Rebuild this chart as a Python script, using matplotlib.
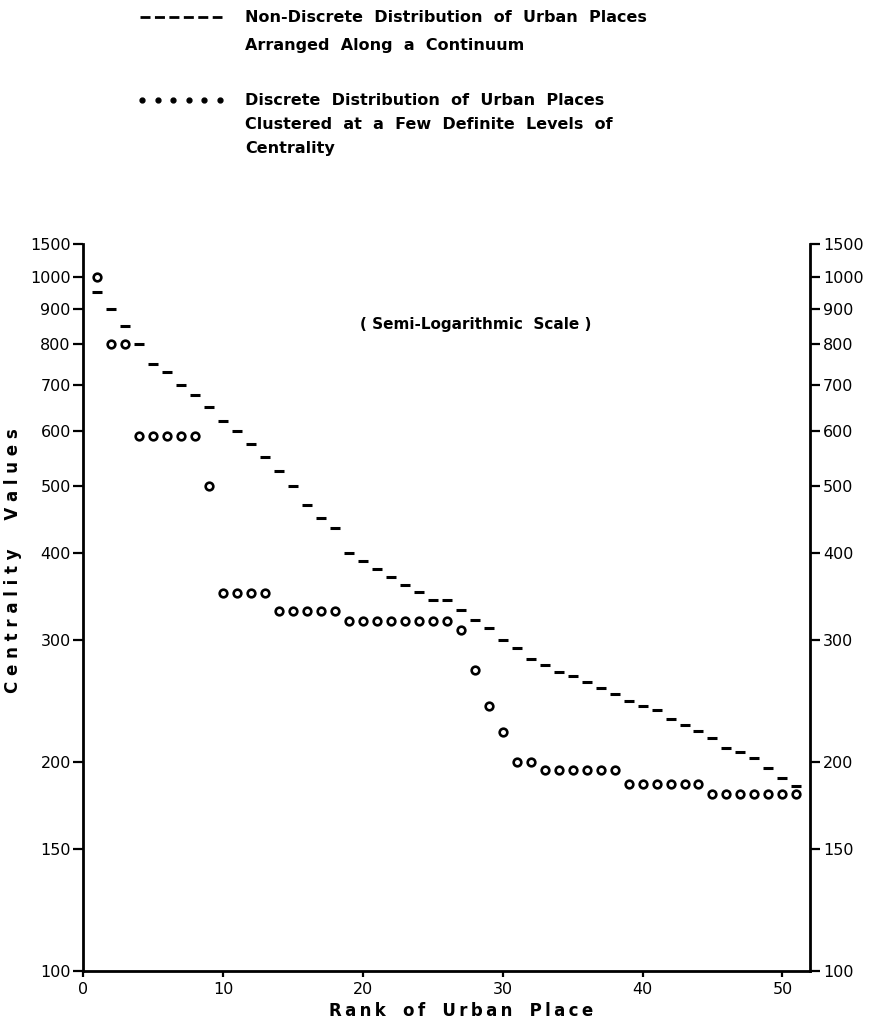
import numpy as np
import matplotlib
matplotlib.use("Agg")
import matplotlib.pyplot as plt
from matplotlib.lines import Line2D

# rank of urban place (1..51)
ranks = np.arange(1, 52)

# non-discrete distribution: one centrality value per rank
continuum_vals = [950, 900, 850, 800, 750, 730, 700, 675, 650, 620,
                  600, 575, 550, 525, 500, 470, 450, 435, 400, 390,
                  380, 370, 360, 352, 343, 342, 331, 321, 312, 300,
                  292, 282, 276, 270, 266, 261, 256, 251, 245, 241,
                  238, 231, 226, 222, 217, 210, 207, 203, 196, 190,
                  185]

# discrete distribution: places clustered at a few levels
discrete_vals = [1000, 800, 800, 590, 590, 590, 590, 590, 500, 350,
                 350, 350, 350, 330, 330, 330, 330, 330, 320, 320,
                 320, 320, 320, 320, 320, 320, 310, 272, 241, 221,
                 200, 200, 195, 195, 195, 195, 195, 195, 186, 186,
                 186, 186, 186, 186, 180, 180, 180, 180, 180, 180,
                 180]

x_ticks = [0, 10, 20, 30, 40, 50]
y_ticks = [100, 150, 200, 300, 400, 500, 600, 700, 800, 900, 1000, 1500]

legend_continuum = "Non-Discrete  Distribution  of  Urban  Places\nArranged  Along  a  Continuum"
legend_discrete = ("Discrete  Distribution  of  Urban  Places\n"
                   "Clustered  at  a  Few  Definite  Levels  of\nCentrality")

# semi-logarithmic scale: log up to 1000, compressed above
K = 0.047


def fwd(v):
    v = np.asarray(v, dtype=float)
    lo = np.log10(np.clip(v, 1e-9, None))
    hi = 3 + (v - 1000) / 500 * K
    return np.where(v <= 1000, lo, hi)


def inv(u):
    u = np.asarray(u, dtype=float)
    lo = 10 ** np.minimum(u, 3)
    hi = 1000 + (u - 3) / K * 500
    return np.where(u <= 3, lo, hi)


def spaced(s, sep="\u2009"):
    return sep.join(s)


plt.rcParams['font.family'] = ['DejaVu Sans']

fig = plt.figure(figsize=(8.77, 10.31), dpi=100)
ax = fig.add_axes([0.095, 0.058, 0.829, 0.705])

ax.plot(ranks, continuum_vals, linestyle='none', marker='_', markersize=7.5,
        markeredgewidth=2.2, color='black')
ax.plot(ranks, discrete_vals, linestyle='none', marker='o', markersize=5.5,
        markerfacecolor='white', markeredgecolor='black', markeredgewidth=1.9)

ax.set_yscale('function', functions=(fwd, inv))
ax.set_xlim(0, 52)
ax.set_ylim(100, 1500)

ax.set_xticks(x_ticks)
ax.set_xticklabels([str(t) for t in x_ticks])
ax.set_yticks(y_ticks)
ax.set_yticklabels([str(t) for t in y_ticks])
ax.yaxis.set_minor_locator(matplotlib.ticker.NullLocator())
ax.xaxis.set_minor_locator(matplotlib.ticker.NullLocator())

ax.tick_params(axis='y', which='major', direction='out', length=7, width=1.6,
               labelsize=11.5, pad=2, left=True, right=True,
               labelleft=True, labelright=True)
ax.tick_params(axis='x', which='major', direction='out', length=4, width=1.6,
               labelsize=11.5, pad=4)

for side in ['left', 'bottom', 'right']:
    ax.spines[side].set_linewidth(2)
ax.spines['top'].set_visible(False)

ax.set_xlabel(spaced("Rank") + "   " + spaced("of") + "   " + spaced("Urban") + "   " + spaced("Place"),
              fontsize=12, fontweight='bold')
ax.xaxis.set_label_coords(0.52, -0.042)
ax.set_ylabel(spaced("Centrality", " ") + "     " + spaced("Values", " "),
              fontsize=12, fontweight='bold')
ax.yaxis.set_label_coords(-0.085, 0.565)

ax.text(0.54, 0.89, "( Semi-Logarithmic  Scale )", transform=ax.transAxes,
        ha='center', va='center', fontsize=11, fontweight='bold')

# legend drawn at the top of the page
fig.add_artist(Line2D([140 / 877, 222 / 877], [1 - 17 / 1031, 1 - 17 / 1031],
                      color='black', linewidth=2, linestyle=(0, (3.6, 1.6))))
fig.add_artist(Line2D(np.linspace(142, 220, 6) / 877, np.full(6, 1 - 100 / 1031),
                      linestyle='none', marker='o', markersize=3.5, color='black'))
fig.text(245 / 877, 1 - 23 / 1031, legend_continuum, ha='left', va='center_baseline',
         fontsize=11.5, fontweight='bold', linespacing=2.1)
fig.text(245 / 877, 1 - 93 / 1031, legend_discrete, ha='left', va='top',
         fontsize=11.5, fontweight='bold', linespacing=1.75)

fig.savefig("out.png", dpi=100)
